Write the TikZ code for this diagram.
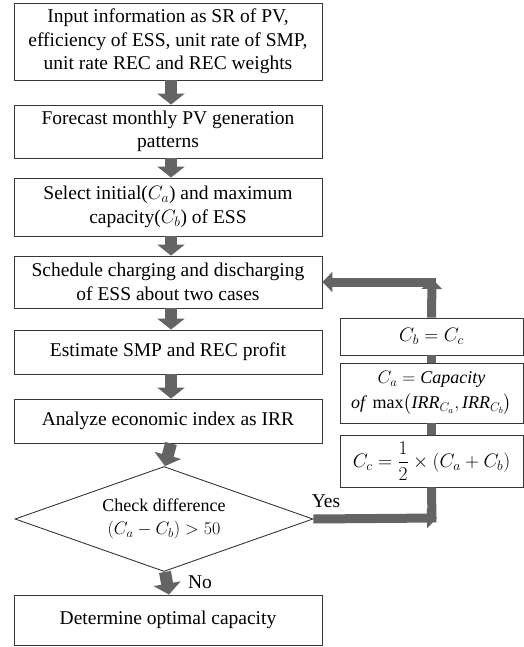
\RequirePackage{fix-cm}
\documentclass[tikz,border=0pt]{standalone}
\usepackage{amsmath}
\usepackage{fontspec}
\setmainfont{Liberation Serif}
\usetikzlibrary{shapes.geometric,arrows.meta}
\definecolor{arrowgray}{RGB}{100,100,100}
\definecolor{boxline}{RGB}{55,55,55}

\begin{document}
\begin{tikzpicture}[x=1pt,y=-1pt,
    stepbox/.style={draw=boxline, line width=0.9pt, fill=white, align=center,
      minimum width=308pt, inner sep=2pt, font=\fontsize{19.5}{23.5}\selectfont},
    loopbox/.style={stepbox, minimum width=183pt},
    flow/.style={draw=arrowgray, line width=12pt, -{Triangle[width=27pt,length=11pt]}},
    loopline/.style={draw=arrowgray, line width=9pt},
    loophead/.style={loopline, -{Triangle[width=20pt,length=10pt]}}]
    \useasboundingbox (0,0) rectangle (524,647);
    \node[stepbox, minimum height=77pt] (1) at (168,41.5) {Input information as SR of PV,\\efficiency of ESS, unit rate of SMP,\\unit rate REC and REC weights};
    \node[stepbox, minimum height=53pt] (2) at (168,131.5) {Forecast monthly PV generation\\patterns};
    \node[stepbox, minimum height=58pt] (3) at (168,207) {Select initial($C_a$) and maximum\\capacity($C_b$) of ESS};
    \node[stepbox, minimum height=52pt] (4) at (168,282) {Schedule charging and discharging\\of ESS about two cases};
    \node[stepbox, minimum height=44pt] (5) at (168,352) {Estimate SMP and REC profit};
    \node[stepbox, minimum height=44pt] (6) at (168,421) {Analyze economic index as IRR};
    \node[stepbox, diamond, aspect=2.8, minimum width=298pt, minimum height=105pt, inner sep=0pt,
      font=\fontsize{18}{22.5}\selectfont] (7) at (164,519) {Check difference\\$(C_a - C_b) > 50$};
    \node[stepbox, minimum height=50pt] (8) at (168,620) {Determine optimal capacity};
    \node[loopbox, minimum height=37pt] (9) at (431.5,336.5) {$C_b = C_c$};
    \node[loopbox, minimum height=60pt, font=\fontsize{18}{20}\selectfont] (10) at (431.5,393)
      {$C_a = \mathit{Capacity}$\\[5pt]$\mathit{of}\ \max\bigl(\mathit{IRR}_{C_a}, \mathit{IRR}_{C_b}\bigr)$};
    \node[loopbox, minimum height=52pt] (11) at (431.5,461) {$C_c = \dfrac{1}{2}\times(C_a + C_b)$};
    \node[font=\fontsize{19.5}{23.5}\selectfont] (yes) at (326,501) {Yes};
    \node[font=\fontsize{19.5}{23.5}\selectfont] (no) at (200,582) {No};
    \coordinate (c1) at (437,518);
    \coordinate (c2) at (432,522.5);
    \coordinate (c3) at (432,279);
    \coordinate (c4) at (436,282);
    % main flow
    \draw[flow] ([xshift=3pt]1.south) -- ([xshift=3pt]2.north);
    \draw[flow] ([xshift=3pt]2.south) -- ([xshift=3pt]3.north);
    \draw[flow] ([xshift=3pt]3.south) -- ([xshift=3pt]4.north);
    \draw[flow] ([xshift=3pt]4.south) -- ([xshift=3pt]5.north);
    \draw[flow] ([xshift=3pt]5.south) -- ([xshift=3pt]6.north);
    \draw[flow] ([xshift=3pt]6.south) -- ([xshift=1pt]7.north);
    \draw[flow] ([xshift=1pt]7.south) -- ([xshift=1pt]8.north);
    % loop back
    \draw[loophead] (7.east) -- (c1);
    \draw[loopline] (c2) -- (11.south);
    \draw[loopline] (11.north) -- (10.south);
    \draw[loopline] (10.north) -- (9.south);
    \draw[loophead] (c4) -- (4.east);
    \draw[loophead] (9.north) -- (c3);
\end{tikzpicture}
\end{document}
